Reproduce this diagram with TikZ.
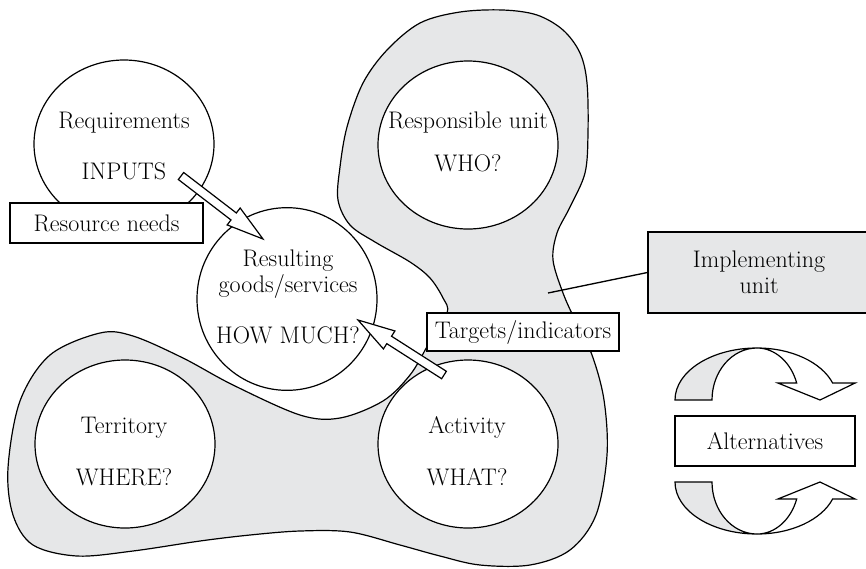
\documentclass[tikz,border=0pt]{standalone}
\usepackage{fontspec}
\usetikzlibrary{shapes.geometric,calc}
\definecolor{blobgray}{RGB}{230,231,232}
\tikzset{
  every node/.style={font=\fontsize{18}{19.5}\selectfont},
  ell/.style={ellipse, draw, fill=white, line width=0.9pt, minimum width=135pt, minimum height=126pt, inner sep=0pt},
  lbl/.style={anchor=base, inner sep=0pt},
  whitebox/.style={draw, fill=white, line width=0.9pt, inner sep=0pt},
  graybox/.style={draw, fill=blobgray, line width=0.9pt, inner sep=0pt, align=center},
  blob/.style={draw, fill=blobgray, line width=0.9pt},
  fatarr/.style={draw, fill=white, line width=0.9pt, line join=miter},
  grayrib/.style={draw, fill=blobgray, line width=0.9pt},
  whiterib/.style={draw, fill=white, line width=0.9pt, line join=miter},
  link/.style={draw, line width=1pt},
}
\newcommand{\fatarrow}[2]{%
  \path coordinate (fatc) at ($(#2)!27.75pt!(#1)$);
  \draw[fatarr] ($(#1)!3.3pt!90:(#2)$) -- ($(fatc)!3.3pt!90:(#2)$) -- ($(fatc)!8pt!90:(#2)$) -- (#2)
     -- ($(fatc)!8pt!-90:(#2)$) -- ($(fatc)!3.3pt!-90:(#2)$) -- ($(#1)!3.3pt!-90:(#2)$) -- cycle;}
\begin{document}
\begin{tikzpicture}[x=0.75pt,y=-0.75pt]
\useasboundingbox (0,0) rectangle (866,568);
% gray region
\draw[blob] plot[smooth cycle, tension=0.55] coordinates {
 (460,12) (503,10) (537,15) (563,30) (580,53) (587,83) (588,133) (585,173) (570,207) (557,233)
 (553,260) (563,293) (575,320) (592,355) (604,400) (607,455) (596,515) (570,550) (530,565)
 (480,565) (440,556) (400,545) (350,532) (300,531) (250,535) (200,541) (133,551) (77,556)
 (33,545) (13,515) (8,468) (20,401) (50,355) (100,333) (133,336) (183,358) (233,385)
 (300,415) (340,418) (383,401) (410,375) (428,345) (447,313) (443,298) (430,278) (410,262)
 (375,242) (350,225) (338,200) (340,167) (347,127) (363,83) (387,50) (420,23)};
% ellipses
\node[ell] (req) at (124,144) {};
\node[ell, minimum height=137pt] (res) at (287,299) {};
\node[ell] (resp) at (468,145) {};
\node[ell] (terr) at (125,444) {};
\node[ell] (act) at (468,444) {};
% texts
\node[lbl] (reqA) at (124,128) {Requirements};
\node[lbl] (reqB) at (124,179) {INPUTS};
\node[lbl] (resA) at (288,266) {Resulting};
\node[lbl] (resB) at (288,292) {goods/services};
\node[lbl] (resC) at (288,343) {HOW MUCH?};
\node[lbl] (respA) at (468,128) {Responsible unit};
\node[lbl] (respB) at (468,171) {WHO?};
\node[lbl] (terrA) at (124,433) {Territory};
\node[lbl] (terrB) at (124,485) {WHERE?};
\node[lbl] (actA) at (467,433) {Activity};
\node[lbl] (actB) at (467,485) {WHAT?};
% boxes
\node[whitebox, minimum width=144.75pt, minimum height=30pt] (resn) at (106.5,223) {Resource needs};
\node[whitebox, minimum width=144pt, minimum height=28.5pt] (targ) at (523,332) {Targets/indicators};
\node[graybox, minimum width=166.5pt, minimum height=60.75pt] (impl) at (759,272.5) {Implementing\\unit};
\node[whitebox, minimum width=135pt, minimum height=37.5pt] (alt) at (765,441) {Alternatives};
% fat arrows
\coordinate (a1s) at (181,176);
\coordinate (a1e) at (263,239);
\coordinate (a2s) at (444,375);
\coordinate (a2e) at (358,320);
\fatarrow{a1s}{a1e}
\fatarrow{a2s}{a2e}
% pointer line
\coordinate (implpt) at (548,293);
\draw[link] (implpt) -- (impl.west);
% cycle arrows
\draw[grayrib] (675,400) arc[start angle=180,end angle=90,x radius=61.5pt,y radius=39pt]
   arc[start angle=90,end angle=180,x radius=33.75pt,y radius=39pt] -- cycle;
\draw[whiterib] (757,348) arc[start angle=90,end angle=19,x radius=60pt,y radius=39pt]
   -- (855,383.07) -- (820,400) -- (778,383.07) -- (796.7,383.07)
   arc[start angle=19,end angle=90,x radius=31.5pt,y radius=39pt] -- cycle;
\draw[grayrib] (675,482) arc[start angle=180,end angle=270,x radius=61.5pt,y radius=39pt]
   arc[start angle=270,end angle=180,x radius=33.75pt,y radius=39pt] -- cycle;
\draw[whiterib] (757,534) arc[start angle=270,end angle=341,x radius=60pt,y radius=39pt]
   -- (855,498.93) -- (820,482) -- (778,498.93) -- (796.7,498.93)
   arc[start angle=341,end angle=270,x radius=31.5pt,y radius=39pt] -- cycle;
\end{tikzpicture}
\end{document}
